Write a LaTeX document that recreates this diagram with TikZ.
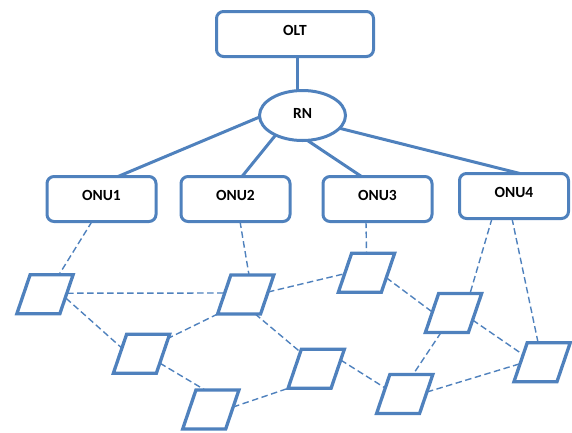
\documentclass[tikz,border=0pt]{standalone}
\usepackage{fontspec}
\setmainfont{Carlito}
\usetikzlibrary{shapes.geometric}

\definecolor{netblue}{RGB}{79,129,189}

\tikzset{
  boxnode/.style={draw=netblue, line width=3pt, fill=white, rounded corners=7pt,
    minimum width=109pt, minimum height=45pt, inner sep=0pt, outer sep=0pt,
    font=\fontsize{15.5}{15.5}\selectfont\bfseries, text height=10pt, text depth=7pt},
  rnnode/.style={draw=netblue, line width=3pt, fill=white, ellipse,
    minimum width=86pt, minimum height=50pt, inner sep=0pt, outer sep=0pt,
    font=\fontsize{15.5}{15.5}\selectfont\bfseries, text height=10pt, text depth=3.6pt},
  hostnode/.style={draw=netblue, line width=3.3pt, fill=white,
    minimum width=43pt, minimum height=39pt, inner sep=0pt, outer sep=0pt,
    xslant=0.34},
  trunk/.style={draw=netblue, line width=3pt},
  mesh/.style={draw=netblue, line width=1.4pt, dash pattern=on 6.5pt off 3.5pt}
}

\begin{document}
\begin{tikzpicture}[x=1pt, y=-1pt]
\useasboundingbox (0,0) rectangle (572,432);

% optical line terminal, remote node and the four ONUs
\node[boxnode, minimum width=157pt] (OLT) at (295,34) {OLT};
\node[rnnode] (RN) at (302.5,115.5) {RN};
\node[boxnode] (ONU1) at (101.5,199) {ONU1};
\node[boxnode] (ONU2) at (235.5,199) {ONU2};
\node[boxnode] (ONU3) at (377.5,199) {ONU3};
\node[boxnode] (ONU4) at (514,196) {ONU4};

% feeder and distribution fibres
\draw[trunk] ([xshift=2pt]OLT.south) -- ([xshift=2pt]OLT.south |- RN.north);
\draw[trunk] (RN.182) -- ([xshift=16.5pt]ONU1.north);
\draw[trunk] (RN.216) -- ([xshift=6.5pt]ONU2.north);
\draw[trunk] (RN.281) -- ([xshift=-16pt]ONU3.north);
\draw[trunk] (RN.341) -- ([xshift=6pt]ONU4.north);

% wireless mesh routers
\node[hostnode] (P1) at (45,294.2) {};
\node[hostnode] (P2) at (245.7,294.5) {};
\node[hostnode] (P3) at (366.5,272.7) {};
\node[hostnode] (P4) at (453.5,313) {};
\node[hostnode] (P5) at (141.5,353.7) {};
\node[hostnode] (P6) at (316.2,368.8) {};
\node[hostnode] (P7) at (210.8,409.5) {};
\node[hostnode] (P8) at (404.7,394) {};
\node[hostnode] (P9) at (542.1,362.2) {};

% ONU to gateway router links
\draw[mesh] ([xshift=-9.5pt]ONU1.south) -- ([shift={(14,-19.5)}]P1.center);
\draw[mesh] ([xshift=4.5pt]ONU2.south) -- ([shift={(3.3,-19.5)}]P2.center);
\draw[mesh] ([xshift=-11.5pt]ONU3.south) -- ([shift={(0,-19.5)}]P3.center);
\draw[mesh] ([xshift=-22pt]ONU4.south) -- ([shift={(16.5,-19.5)}]P4.center);
\draw[mesh] ([xshift=-2pt]ONU4.south) -- ([shift={(-4,-19.5)}]P9.center);

% router to router links
\draw[mesh] ([shift={(22,-1)}]P1.center) -- ([shift={(-21,-1.5)}]P2.center);
\draw[mesh] ([shift={(21,4)}]P1.center) -- ([shift={(-19.5,-5.5)}]P5.center);
\draw[mesh] ([shift={(22.3,-2.5)}]P2.center) -- ([shift={(-21.8,1)}]P3.center);
\draw[mesh] ([shift={(-28,19.5)}]P2.center) -- ([shift={(26.8,-15.5)}]P5.center);
\draw[mesh] ([shift={(9.5,19.5)}]P2.center) -- ([shift={(-15.5,-16.5)}]P6.center);
\draw[mesh] ([shift={(19.8,5)}]P3.center) -- ([shift={(-21.2,-1)}]P4.center);
\draw[mesh] ([shift={(18.5,9.5)}]P5.center) -- ([shift={(-5.8,-19.5)}]P7.center);
\draw[mesh] ([shift={(22.3,-2.5)}]P7.center) -- ([shift={(-28,19.5)}]P6.center);
\draw[mesh] ([shift={(24.5,-8.8)}]P6.center) -- ([shift={(-19.5,-6)}]P8.center);
\draw[mesh] ([shift={(-12.5,19.5)}]P4.center) -- ([shift={(8.3,-19.5)}]P8.center);
\draw[mesh] ([shift={(19.1,7)}]P4.center) -- ([shift={(-19,-7.5)}]P9.center);
\draw[mesh] ([shift={(22.2,-2)}]P8.center) -- ([shift={(-22,1.5)}]P9.center);
\end{tikzpicture}
\end{document}
